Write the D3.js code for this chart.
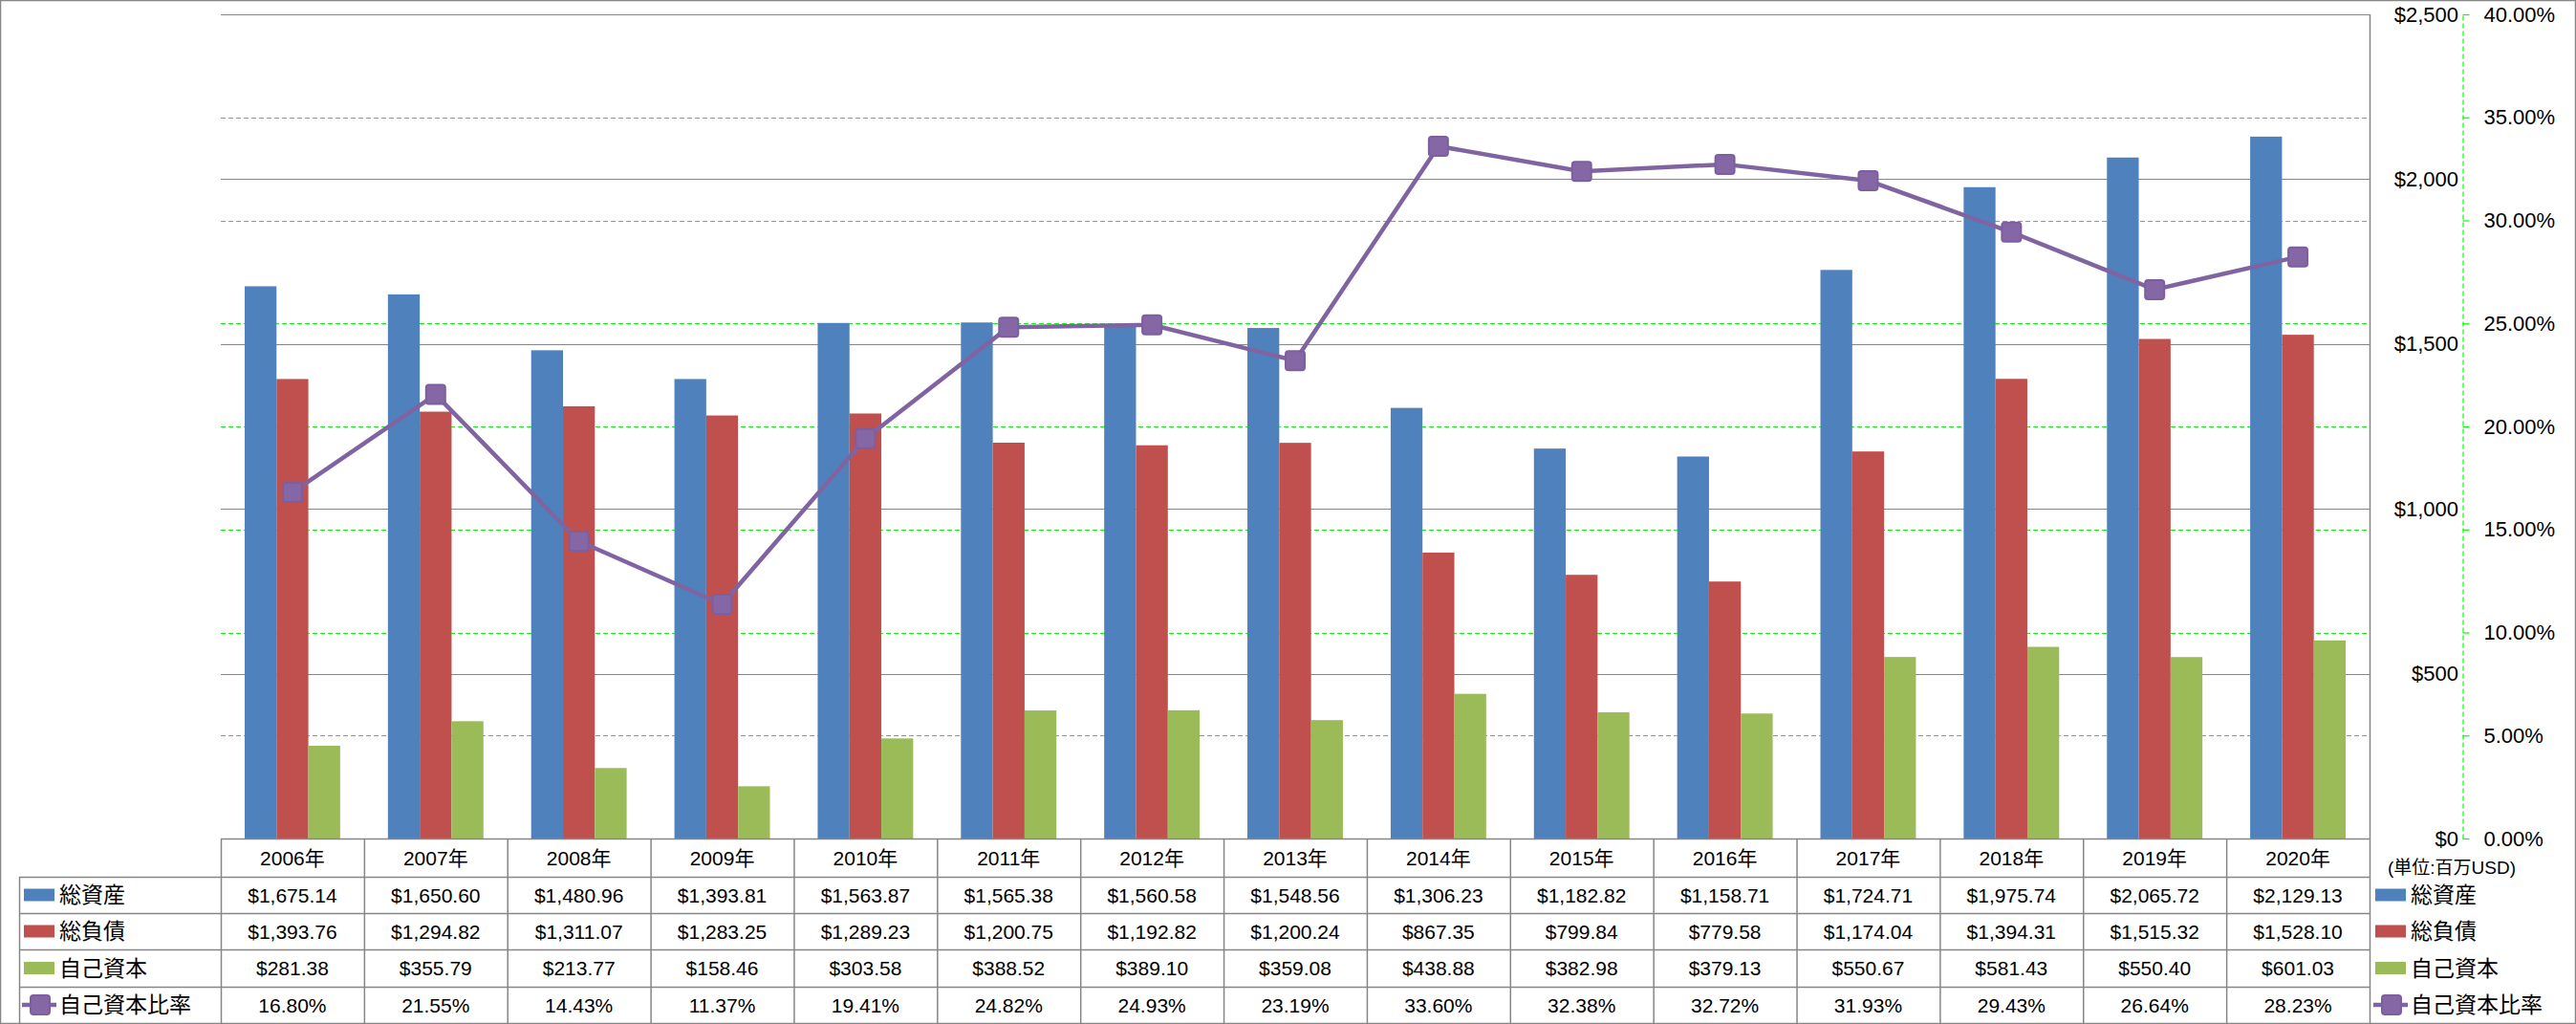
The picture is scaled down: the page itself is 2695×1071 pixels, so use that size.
<!DOCTYPE html>
<html><head><meta charset="utf-8">
<script src="https://cdn.jsdelivr.net/npm/d3@7"></script>
<style>
html,body{margin:0;padding:0;background:#fff;}
svg{display:block;}
text{font-family:"Liberation Sans","Noto Sans CJK JP",sans-serif;fill:#000;}
</style></head>
<body>
<svg id="chart" width="2695" height="1071"></svg>
<script>
const years = ["2006年","2007年","2008年","2009年","2010年","2011年","2012年","2013年","2014年","2015年","2016年","2017年","2018年","2019年","2020年"];
const totalAssets = [1675.14,1650.60,1480.96,1393.81,1563.87,1565.38,1560.58,1548.56,1306.23,1182.82,1158.71,1724.71,1975.74,2065.72,2129.13];
const totalLiabilities = [1393.76,1294.82,1311.07,1283.25,1289.23,1200.75,1192.82,1200.24,867.35,799.84,779.58,1174.04,1394.31,1515.32,1528.10];
const equity = [281.38,355.79,213.77,158.46,303.58,388.52,389.10,359.08,438.88,382.98,379.13,550.67,581.43,550.40,601.03];
const equityRatio = [16.80,21.55,14.43,11.37,19.41,24.82,24.93,23.19,33.60,32.38,32.72,31.93,29.43,26.64,28.23];
const seriesNames = ["総資産","総負債","自己資本","自己資本比率"];
const seriesColors = ["#4F81BD","#C0504D","#9BBB59","#8064A2"];
const usdTicks = [0,500,1000,1500,2000,2500];
const pctTicks = [0,5,10,15,20,25,30,35,40];
const unitLabel = "(単位:百万USD)";

const svg = d3.select("#chart");
const L = 231, R = 2479, T = 15, B = 877;
const rowY = [877, 917, 955, 993, 1032, 1070];
const gray = "#868686";

const x = d3.scaleBand().domain(years).range([L, R]).paddingInner(0).paddingOuter(0);
const xs = d3.scaleBand().domain([0,1,2]).range([0, x.bandwidth()]).paddingInner(0).paddingOuter(0.75);
const y = d3.scaleLinear().domain([0, 2500]).range([B, T]);
const yp = d3.scaleLinear().domain([0, 40]).range([B, T]);

// outer border
svg.append("rect").attr("x",0.5).attr("y",0.5).attr("width",2694).attr("height",1070)
  .attr("fill","none").attr("stroke",gray).attr("stroke-width",1.5);

// green dashed pct gridlines
svg.append("g").selectAll("line").data(pctTicks.filter(d=>d>0)).join("line")
  .attr("x1",L).attr("x2",R)
  .attr("y1",d=>Math.round(yp(d))+0.5).attr("y2",d=>Math.round(yp(d))+0.5)
  .attr("stroke","#00FF00").attr("stroke-width",1.2).attr("stroke-dasharray","5,3");
// gray usd gridlines
svg.append("g").selectAll("line").data(usdTicks.filter(d=>d>0)).join("line")
  .attr("x1",L).attr("x2",R)
  .attr("y1",d=>Math.round(y(d))+0.5).attr("y2",d=>Math.round(y(d))+0.5)
  .attr("stroke",gray).attr("stroke-width",1.2);

// bars
const barSeries = [totalAssets, totalLiabilities, equity];
barSeries.forEach((vals, si) => {
  svg.append("g").selectAll("rect").data(vals).join("rect")
    .attr("x",(d,i)=>x(years[i]) + xs(si))
    .attr("width", xs.bandwidth())
    .attr("y", d=>y(d))
    .attr("height", d=>B - y(d))
    .attr("fill", seriesColors[si]);
});

// line
const line = d3.line().x((d,i)=>x(years[i]) + x.bandwidth()/2).y(d=>yp(d));
svg.append("path").datum(equityRatio).attr("d",line)
  .attr("fill","none").attr("stroke",seriesColors[3]).attr("stroke-width",4.5).attr("stroke-linejoin","round");
svg.append("g").selectAll("rect").data(equityRatio).join("rect")
  .attr("x",(d,i)=>x(years[i]) + x.bandwidth()/2 - 10)
  .attr("y",d=>yp(d)-10).attr("width",20).attr("height",20).attr("rx",3)
  .attr("fill","#8567A6").attr("stroke","#7C5F9F").attr("stroke-width",2);

// table lines
const tg = svg.append("g").attr("stroke",gray).attr("stroke-width",1.5);
tg.append("line").attr("x1",L).attr("x2",R).attr("y1",B+0.5).attr("y2",B+0.5);
rowY.slice(1,5).forEach(yy=>{
  tg.append("line").attr("x1",20).attr("x2",R).attr("y1",yy+0.5).attr("y2",yy+0.5);
});
years.forEach(yr=>{
  tg.append("line").attr("x1",x(yr)+0.5).attr("x2",x(yr)+0.5).attr("y1",B).attr("y2",1070);
});
tg.append("line").attr("x1",20.5).attr("x2",20.5).attr("y1",rowY[1]).attr("y2",1070);
tg.append("line").attr("x1",R+0.5).attr("x2",R+0.5).attr("y1",T).attr("y2",1070);

// table text
const fmtUsd = d3.format("$,.2f");
const rowsData = [
  years.map(d=>d),
  totalAssets.map(fmtUsd),
  totalLiabilities.map(fmtUsd),
  equity.map(fmtUsd),
  equityRatio.map(d=>d.toFixed(2)+"%")
];
rowsData.forEach((row, ri) => {
  const cy = (rowY[ri] + rowY[ri+1]) / 2;
  svg.append("g").selectAll("text").data(row).join("text")
    .attr("x",(d,i)=>x(years[i]) + x.bandwidth()/2)
    .attr("y",cy).attr("dy","0.36em")
    .attr("text-anchor","middle").attr("font-size",21)
    .text(d=>d);
});

// legend keys (in table and at right)
function legendKey(g, si, kx, cy){
  if (si < 3) {
    g.append("rect").attr("x",kx).attr("y",cy-6.5).attr("width",32).attr("height",13).attr("fill",seriesColors[si]);
  } else {
    g.append("line").attr("x1",kx-2).attr("x2",kx+34).attr("y1",cy).attr("y2",cy)
      .attr("stroke",seriesColors[3]).attr("stroke-width",4.5);
    g.append("rect").attr("x",kx+7).attr("y",cy-10).attr("width",20).attr("height",20).attr("rx",3)
      .attr("fill","#8567A6").attr("stroke","#7C5F9F").attr("stroke-width",2);
  }
}
seriesNames.forEach((nm, si) => {
  const cy = (rowY[si+1] + rowY[si+2]) / 2;
  const g = svg.append("g");
  legendKey(g, si, 25, cy);
  g.append("text").attr("x",62).attr("y",cy).attr("dy","0.36em").attr("font-size",23).text(nm);
  const g2 = svg.append("g");
  legendKey(g2, si, 2485, cy);
  g2.append("text").attr("x",2522).attr("y",cy).attr("dy","0.36em").attr("font-size",23).text(nm);
});

// axes on the right
const axUsd = svg.append("g").attr("transform","translate(2576,0)")
  .call(d3.axisLeft(y).tickValues(usdTicks).tickSize(0).tickPadding(4).tickFormat(d3.format("$,")));
axUsd.select(".domain").remove();
axUsd.selectAll("text").attr("font-size",22).attr("fill","#000").attr("font-family",null);

const axPct = svg.append("g").attr("transform","translate(2576.5,0)")
  .call(d3.axisRight(yp).tickValues(pctTicks).tickSizeInner(7).tickSizeOuter(0).tickPadding(15).tickFormat(d=>d.toFixed(2)+"%"));
axPct.select(".domain").attr("stroke","#00FF00").attr("stroke-dasharray","5,3").attr("stroke-width",1.2);
axPct.selectAll(".tick line").attr("stroke","#00FF00").attr("stroke-width",1.2);
axPct.selectAll("text").attr("font-size",22).attr("fill","#000").attr("font-family",null);

svg.append("text").attr("x",2498).attr("y",907).attr("dy","0.36em").attr("font-size",19).text(unitLabel);
</script>
</body></html>
